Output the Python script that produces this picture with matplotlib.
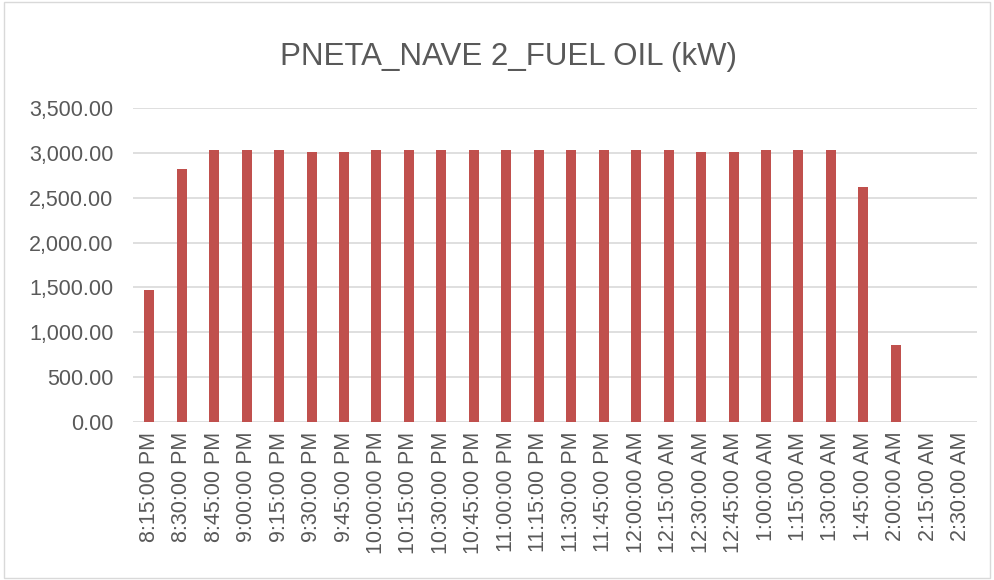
import matplotlib

matplotlib.use("Agg")
import matplotlib.pyplot as plt
from matplotlib.patches import Rectangle
from matplotlib.ticker import FuncFormatter, MultipleLocator

TIMES = ["8:15:00 PM", "8:30:00 PM", "8:45:00 PM", "9:00:00 PM", "9:15:00 PM",
         "9:30:00 PM", "9:45:00 PM", "10:00:00 PM", "10:15:00 PM", "10:30:00 PM",
         "10:45:00 PM", "11:00:00 PM", "11:15:00 PM", "11:30:00 PM", "11:45:00 PM",
         "12:00:00 AM", "12:15:00 AM", "12:30:00 AM", "12:45:00 AM", "1:00:00 AM",
         "1:15:00 AM", "1:30:00 AM", "1:45:00 AM", "2:00:00 AM", "2:15:00 AM",
         "2:30:00 AM"]
POWER_KW = [1470, 2815, 3028, 3028, 3028, 3014, 3014, 3028, 3028, 3028,
            3028, 3028, 3028, 3028, 3028, 3028, 3028, 3014, 3014, 3028,
            3028, 3028, 2615, 855, 0, 0]

BAR = "#C0504D"
TXT = "#595959"
GRID = "#D9D9D9"
plt.rcParams.update({"font.family": ["Liberation Sans", "DejaVu Sans"]})

fig = plt.figure(figsize=(9.94, 5.8), dpi=100)
ax = fig.add_axes([133 / 994, 1 - 422 / 580, 844 / 994, 314 / 580])
x = range(len(TIMES))
ax.bar(x, POWER_KW, width=0.31, color=BAR, zorder=2)
ax.set_xlim(-0.5, len(TIMES) - 0.5)
ax.set_ylim(0, 3500)
ax.yaxis.set_major_locator(MultipleLocator(500))
ax.yaxis.set_major_formatter(FuncFormatter(lambda v, _: f"{v:,.2f}"))
ax.set_xticks(list(x))
ax.set_xticklabels(TIMES, rotation=90)
ax.tick_params(axis="both", length=0, labelsize=15.5, labelcolor=TXT)
ax.tick_params(axis="x", pad=7)
ax.tick_params(axis="y", pad=14)
ax.grid(axis="y", color=GRID, lw=1.2, zorder=0)
for s in ax.spines.values():
    s.set_visible(False)
fig.text(508 / 994, 1 - 57 / 580, "PNETA_NAVE 2_FUEL OIL (kW)", fontsize=22.5,
         color=TXT, ha="center", va="center")

fig.patches.append(Rectangle((0.004, 0.004), 0.992, 0.992, transform=fig.transFigure,
                             fill=False, edgecolor=GRID, lw=1))
fig.savefig("out.png", dpi=100)
